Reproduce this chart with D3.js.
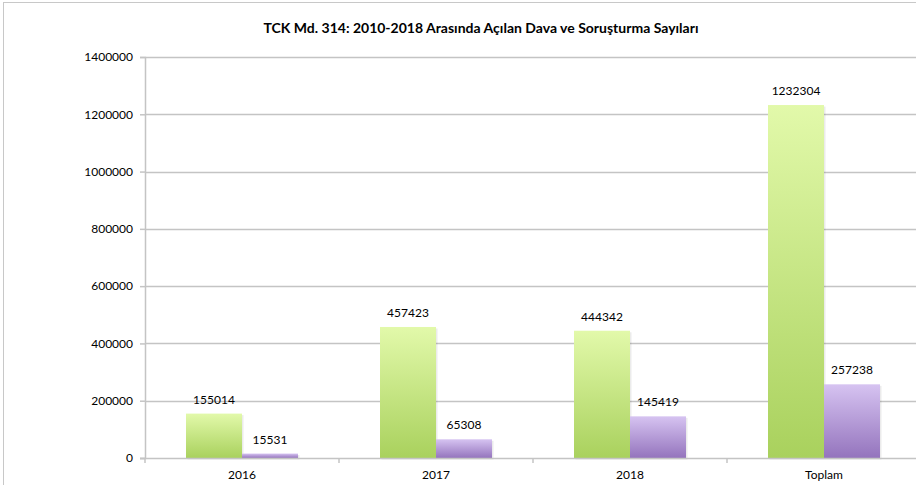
<!DOCTYPE html>
<html><head><meta charset="utf-8">
<script src="https://cdn.jsdelivr.net/npm/d3@7"></script>
<style>
body{margin:0;background:#fff;}
svg text{font-family:Lato,"Open Sans",sans-serif;fill:#000;}
</style></head>
<body><svg id="chart" width="916" height="485"></svg>
<script>
var categories = ["2016","2017","2018","Toplam"];
var dava       = [155014,457423,444342,1232304];
var sorusturma = [15531,65308,145419,257238];
var yTicks     = [0,200000,400000,600000,800000,1000000,1200000,1400000];
var title      = "TCK Md. 314: 2010-2018 Arasında Açılan Dava ve Soruşturma Sayıları";

var svg = d3.select('#chart');
var pLeft = 145, pRight = 921, pTop = 57, pBottom = 458;

var defs = svg.append('defs');
function grad(id, c1, c2) {
	var g = defs.append('linearGradient').attr('id', id).attr('x1',0).attr('y1',0).attr('x2',0).attr('y2',1);
	g.append('stop').attr('offset','0%').attr('stop-color', c1);
	g.append('stop').attr('offset','100%').attr('stop-color', c2);
}
grad('gGreen', '#e2f9aa', '#a9d15d');
grad('gPurple', '#d6c3f1', '#9474bd');

// frame
svg.append('line').attr('x1',3.5).attr('x2',3.5).attr('y1',2).attr('y2',485).attr('stroke','#c8c8c8');
svg.append('line').attr('x1',3).attr('x2',916).attr('y1',2.5).attr('y2',2.5).attr('stroke','#c8c8c8');

svg.append('text').attr('x',481).attr('y',33).attr('text-anchor','middle')
	.style('font-size','14px').style('font-weight','bold').text(title);

var x = d3.scaleBand().domain(categories).range([pLeft, pRight]);
var y = d3.scaleLinear().domain([0,1400000]).range([pBottom, pTop]);

// grid
svg.append('g').selectAll('line').data(yTicks.slice(1)).enter().append('line')
	.attr('x1', pLeft).attr('x2', 916).attr('y1', function(d){return Math.round(y(d))+0.5;}).attr('y2', function(d){return Math.round(y(d))+0.5;})
	.attr('stroke','#c4c4c4').attr('stroke-width',1.5);

var yAxis = svg.append('g').attr('transform','translate('+pLeft+',0)')
	.call(d3.axisLeft(y).tickValues(yTicks).tickSize(5).tickPadding(7).tickFormat(d3.format('d')));
yAxis.select('.domain').attr('stroke','#c4c4c4').attr('stroke-width',1.5);
yAxis.selectAll('.tick line').attr('stroke','#c4c4c4').attr('stroke-width',1.5);
yAxis.selectAll('text').style('font-size','12px').style('font-family','Lato,"Open Sans",sans-serif');

var bw = 56;
var grp = svg.append('g');
categories.forEach(function(c, i) {
	var cx = x(c) + x.bandwidth()/2;
	[[dava[i], 'url(#gGreen)', cx - bw], [sorusturma[i], 'url(#gPurple)', cx]].forEach(function(s) {
		grp.append('rect').attr('x', s[2]+1.5).attr('y', y(s[0])+1.5).attr('width', bw).attr('height', pBottom - y(s[0]))
			.attr('fill','#000').attr('opacity',0.08);
		grp.append('rect').attr('x', s[2]).attr('y', y(s[0])).attr('width', bw).attr('height', pBottom - y(s[0]))
			.attr('fill', s[1]);
		grp.append('text').attr('x', s[2] + bw/2).attr('y', y(s[0]) - 10).attr('text-anchor','middle')
			.style('font-size','12px').text(s[0]);
	});
});

var xAxis = svg.append('g').attr('transform','translate(0,'+pBottom+')')
	.call(d3.axisBottom(x).tickSize(0).tickPadding(12));
xAxis.select('.domain').remove();
xAxis.selectAll('text').style('font-size','12px').style('font-family','Lato,"Open Sans",sans-serif');
svg.append('line').attr('x1', pLeft-5).attr('x2', 916).attr('y1', pBottom+0.5).attr('y2', pBottom+0.5).attr('stroke','#c4c4c4').attr('stroke-width',1.5);
svg.append('g').selectAll('line').data(categories).enter().append('line')
	.attr('x1', function(d){return x(d);}).attr('x2', function(d){return x(d);})
	.attr('y1', pBottom).attr('y2', pBottom+5).attr('stroke','#c4c4c4').attr('stroke-width',1.5);
</script></body></html>
